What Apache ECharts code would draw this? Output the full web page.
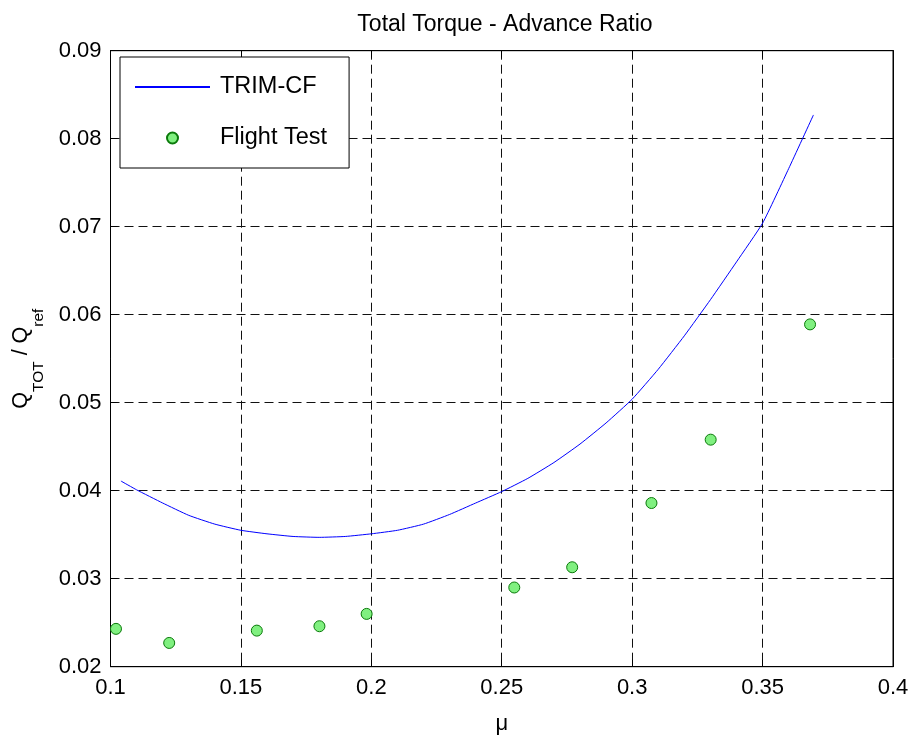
<!DOCTYPE html>
<html>
<head>
<meta charset="utf-8">
<script src="https://cdn.jsdelivr.net/npm/echarts@6/dist/echarts.min.js"></script>
<style>
html,body{margin:0;padding:0;background:#fff;}
#chart{width:912px;height:738px;}
</style>
</head>
<body>
<div id="chart"></div>
<script>
// ---- data ----
var trimMu = [0.104,0.11,0.12,0.13,0.14,0.15,0.16,0.17,0.18,0.19,0.20,0.21,0.22,0.23,0.24,0.25,0.26,0.27,0.28,0.29,0.30,0.31,0.32,0.33,0.34,0.35,0.36,0.3695];
var trimQ  = [0.0411,0.0401,0.0386,0.0372,0.0362,0.0355,0.0351,0.0348,0.0347,0.0348,0.0351,0.0355,0.0362,0.0373,0.0386,0.0399,0.0414,0.0432,0.0453,0.0477,0.0504,0.0538,0.0576,0.0617,0.0660,0.0704,0.0766,0.0827];
var flightMu = [0.1021,0.1225,0.1561,0.1801,0.1982,0.2548,0.2770,0.3074,0.3301,0.3682];
var flightQ  = [0.0243,0.0227,0.0241,0.0246,0.0260,0.0290,0.0313,0.0386,0.0458,0.0589];
var xTicks = [0.1,0.15,0.2,0.25,0.3,0.35,0.4];
var yTicks = [0.02,0.03,0.04,0.05,0.06,0.07,0.08,0.09];

var FONT = 'Liberation Sans, Arial, sans-serif';
function zip(a,b){return a.map(function(v,i){return [v,b[i]];});}

var chart = echarts.init(document.getElementById('chart'), null, {renderer:'canvas'});
var xMin = xTicks[0], xMax = xTicks[xTicks.length-1], xInt = 0.05;
var yMin = yTicks[0], yMax = yTicks[yTicks.length-1], yInt = 0.01;

function axisCommon(){
  return {
    axisLine:{show:true,lineStyle:{color:'#000',width:1}},
    axisTick:{show:true,inside:true,length:7,lineStyle:{color:'#000',width:1}},
  };
}

var option = {
  backgroundColor:'#fff',
  animation:false,
  title:{
    text:'Total Torque - Advance Ratio',
    left:500, top:8, textAlign:'center',
    textStyle:{fontFamily:FONT,fontSize:23,fontWeight:'normal',color:'#000'}
  },
  grid:{left:110.5, right:19, top:50.7, bottom:71.3, containLabel:false, outerBoundsMode:'none',
        show:true, borderColor:'#000', borderWidth:1, backgroundColor:'#fff'},
  legend:{
    orient:'vertical',
    left:120, top:57,
    backgroundColor:'#fff',
    borderColor:'#000', borderWidth:1, borderRadius:0,
    padding:[18,22,18,14],
    itemWidth:75, itemHeight:11, itemGap:27,
    textStyle:{fontFamily:FONT,fontSize:23.5,color:'#000',padding:[0,0,0,5]},
    data:[
      {name:'TRIM-CF', itemStyle:{color:'rgba(0,0,0,0)',borderColor:'rgba(0,0,0,0)',borderWidth:0}},
      {name:'Flight Test'}
    ]
  },
  xAxis:[
    Object.assign(axisCommon(),{
      type:'value', min:xMin, max:xMax, interval:xInt, position:'bottom',
      name:'\u03bc', nameLocation:'middle', nameGap:46,
      nameTextStyle:{fontFamily:FONT,fontSize:22,color:'#000'},
      axisLabel:{fontFamily:FONT,fontSize:22,color:'#000',margin:10,
        formatter:function(v){return String(+v.toFixed(2));}},
      splitLine:{show:true,lineStyle:{color:'#111',type:[9,5],width:1}}
    }),
    Object.assign(axisCommon(),{
      type:'value', min:xMin, max:xMax, interval:xInt, position:'top',
      axisLabel:{show:false}, splitLine:{show:false}
    })
  ],
  yAxis:[
    Object.assign(axisCommon(),{
      type:'value', min:yMin, max:yMax, interval:yInt, position:'left',
      name:'{q|Q}{s|TOT}{q| / Q}{s|ref}', nameLocation:'middle', nameGap:64, nameRotate:90,
      nameTextStyle:{fontFamily:FONT,color:'#000',
        rich:{
          q:{fontFamily:FONT,fontSize:21.5,color:'#000',lineHeight:25,verticalAlign:'top'},
          s:{fontFamily:FONT,fontSize:15.5,color:'#000',lineHeight:36,verticalAlign:'bottom'}
        }},
      axisLabel:{fontFamily:FONT,fontSize:22,color:'#000',margin:9,
        formatter:function(v){return v.toFixed(2);}},
      splitLine:{show:true,lineStyle:{color:'#111',type:[9,5],width:1}}
    }),
    Object.assign(axisCommon(),{
      type:'value', min:yMin, max:yMax, interval:yInt, position:'right',
      axisLabel:{show:false}, splitLine:{show:false}
    })
  ],
  series:[
    {
      name:'TRIM-CF', type:'line', xAxisIndex:0, yAxisIndex:0,
      data:zip(trimMu,trimQ), symbol:'none', showSymbol:false, smooth:0.15,
      lineStyle:{color:'#0000ff',width:1}, itemStyle:{color:'#0000ff'}
    },
    {
      name:'Flight Test', type:'scatter', xAxisIndex:0, yAxisIndex:0,
      data:zip(flightMu,flightQ), symbol:'circle', symbolSize:11,
      itemStyle:{color:'#80f080',borderColor:'#0a7a0a',borderWidth:1,opacity:1}
    }
  ]
};
chart.setOption(option);
</script>
</body>
</html>
